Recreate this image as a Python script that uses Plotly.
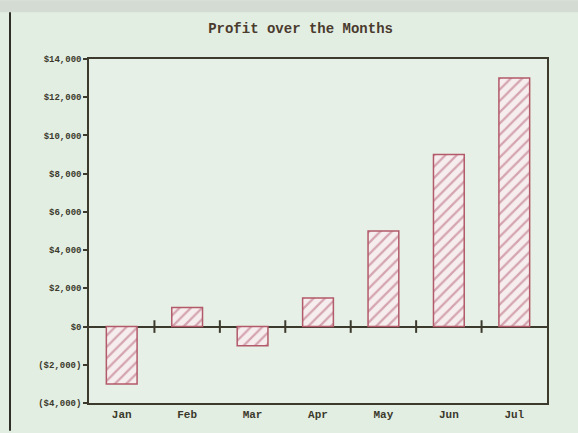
import plotly.graph_objects as go

# Monthly profit figures (US dollars)
months = ["Jan", "Feb", "Mar", "Apr", "May", "Jun", "Jul"]
profit = [-3000, 1000, -1000, 1500, 5000, 9000, 13000]

# Value axis ticks
y_tick_values = [-4000, -2000, 0, 2000, 4000, 6000, 8000, 10000, 12000, 14000]
y_tick_labels = ["($4,000)", "($2,000)", "$0", "$2,000", "$4,000", "$6,000",
                 "$8,000", "$10,000", "$12,000", "$14,000"]

ink = "#3b3a2c"
bar_edge = "#b25a6a"
positions = list(range(len(months)))

fig = go.Figure()

fig.add_trace(go.Bar(
    x=positions,
    y=profit,
    width=0.47,
    marker=dict(
        color="#f6eeee",
        line=dict(color=bar_edge, width=1.5),
        pattern=dict(shape="/", fgcolor="#b35a72", bgcolor="#f6eeee",
                     size=8, solidity=0.28),
    ),
    hoverinfo="x+y",
    showlegend=False,
))

# Small separator marks along the zero line between months
boundaries = [p + 0.5 for p in positions[:-1]]
fig.add_trace(go.Scatter(
    x=boundaries,
    y=[0] * len(boundaries),
    mode="markers",
    marker=dict(symbol="line-ns-open", size=9, color=ink,
                line=dict(color=ink, width=2)),
    hoverinfo="skip",
    showlegend=False,
))

fig.update_layout(
    width=578,
    height=433,
    margin=dict(l=89, r=31, t=59, b=28),
    paper_bgcolor="#e3eee3",
    plot_bgcolor="#e6f0e6",
    title=dict(
        text="<b>Profit over the Months</b>",
        x=0.52, xanchor="center",
        y=1 - 28 / 433, yanchor="middle",
        font=dict(family="Liberation Mono", size=14, color="#4a3b2e"),
    ),
    xaxis=dict(
        range=[-0.5, len(months) - 0.5],
        tickvals=positions,
        ticktext=[f"<b>{m}</b>" for m in months],
        tickfont=dict(family="Liberation Mono", size=11, color=ink),
        showgrid=False,
        zeroline=False,
        showline=True, linecolor=ink, linewidth=1.5, mirror=True,
        ticks="",
        fixedrange=True,
    ),
    yaxis=dict(
        range=[-4000, 14000],
        tickvals=y_tick_values,
        ticktext=[f"<b>{t}</b>" for t in y_tick_labels],
        tickfont=dict(family="Liberation Mono", size=9, color=ink),
        showgrid=False,
        zeroline=True, zerolinecolor=ink, zerolinewidth=1.5,
        showline=True, linecolor=ink, linewidth=1.5, mirror=True,
        ticks="outside", ticklen=4, tickwidth=1.5, tickcolor=ink,
        fixedrange=True,
    ),
    bargap=0.5,
)

# Grey strip along the top of the page and the dark rule down the left edge
plot_w = 578 - 89 - 31
plot_h = 433 - 59 - 28
fig.add_shape(type="rect", xref="paper", yref="paper",
              x0=-89 / plot_w, x1=(578 - 89) / plot_w,
              y0=1 + (59 - 12) / plot_h, y1=1 + 59 / plot_h,
              fillcolor="#d3dbd3", line=dict(width=0), layer="below")
fig.add_shape(type="line", xref="paper", yref="paper",
              x0=(10 - 89) / plot_w, x1=(10 - 89) / plot_w,
              y0=1 + (59 - 12) / plot_h, y1=-28 / plot_h,
              line=dict(color="#2f2f28", width=2))

fig.write_html("out.html")
